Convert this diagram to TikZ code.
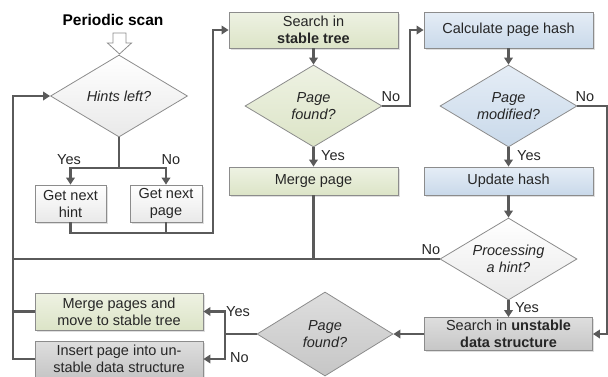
\documentclass[tikz,border=0pt]{standalone}
\usepackage{fontspec}
\setmainfont{Liberation Sans}
\usetikzlibrary{shapes.geometric,arrows.meta,shadows,calc}
\definecolor{linec}{HTML}{5A5A5A}
\definecolor{bordc}{HTML}{8C8C8C}
\definecolor{txtc}{HTML}{262626}
\definecolor{gA}{HTML}{EEF2E3}
\definecolor{gB}{HTML}{DCE4C7}
\definecolor{bA}{HTML}{E5EDF6}
\definecolor{bB}{HTML}{C9D9EA}
\definecolor{kA}{HTML}{DEDEDE}
\definecolor{kB}{HTML}{C6C6C6}
\definecolor{wA}{HTML}{FFFFFF}
\definecolor{wB}{HTML}{E9E9E9}
\begin{document}
\begin{tikzpicture}[x=1pt,y=-1pt,
  every node/.style={font=\fontsize{14.5}{17}\selectfont, text=txtc},
  box/.style={draw=bordc, line width=0.8pt, align=center, inner sep=0pt,
    drop shadow={opacity=0.25, shadow xshift=1.5pt, shadow yshift=-1.5pt}},
  greenbox/.style={box, top color=gA, bottom color=gB},
  bluebox/.style={box, top color=bA, bottom color=bB},
  graybox/.style={box, top color=kA, bottom color=kB},
  whitebox/.style={box, top color=wA, bottom color=wB},
  dia/.style={diamond, draw=bordc, line width=0.8pt, align=center, inner sep=0pt,
    aspect=1.67, minimum width=137pt, minimum height=82pt, font=\fontsize{14.5}{17}\selectfont\itshape},
  conn/.style={draw=linec, line width=2.2pt},
  arr/.style={conn, -{Triangle[length=7pt,width=8.5pt]}},
  lbl/.style={inner sep=0pt}
]
\useasboundingbox (0,0) rectangle (608,376);

% title and start arrow
\node[font=\fontsize{15.5}{18}\selectfont\bfseries, text=black] (title) at (113,20) {Periodic scan};
\draw[draw=bordc, fill=white, line width=0.8pt]
  (113,33) -- (126,33) -- (126,43) -- (131.5,43) -- (119.5,54) -- (107.5,43) -- (113,43) -- cycle;

% nodes
\node[dia, top color=wA, bottom color=wB] (hints) at (119,96) {Hints left?};
\node[whitebox, minimum width=71pt, minimum height=37pt] (hint) at (70.5,203.5) {Get next\\hint};
\node[whitebox, minimum width=72pt, minimum height=37pt] (page) at (166,203.5) {Get next\\page};

\node[greenbox, minimum width=169pt, minimum height=36pt] (stable) at (313.5,30) {Search in\\\textbf{stable tree}};
\node[dia, top color=gA, bottom color=gB] (found) at (313.5,106) {Page\\found?};
\node[greenbox, minimum width=169pt, minimum height=28pt] (mpage) at (313.5,181) {Merge page};

\node[bluebox, minimum width=169pt, minimum height=36pt] (calc) at (508.5,30) {Calculate page hash};
\node[dia, top color=bA, bottom color=bB] (modif) at (508.5,106) {Page\\modified?};
\node[bluebox, minimum width=169pt, minimum height=28pt] (update) at (508.5,181) {Update hash};

\node[dia, top color=wA, bottom color=wB] (proc) at (508.5,259) {Processing\\a hint?};
\node[graybox, minimum width=168pt, minimum height=33pt] (unstable) at (508.5,334) {Search in \textbf{unstable}\\\textbf{data structure}};

\node[dia, top color=kA, bottom color=kB, minimum width=136pt, minimum height=84pt] (gfound) at (325,334) {Page\\found?};
\node[greenbox, minimum width=168pt, minimum height=37pt] (merge2) at (119,311.5) {Merge pages and\\move to stable tree};
\node[graybox, minimum width=168pt, minimum height=36pt] (insert) at (119,359) {Insert page into un-\\stable data structure};

% helper coordinates
\coordinate (hb) at (119,168);
\coordinate (bb) at (213,233);
\coordinate (nf) at (410,106);
\coordinate (nm) at (607.5,106);
\coordinate (lb) at (13,359);
\coordinate (gb) at (225,334);

% connectors
\draw[conn] (hints.south) -- (hb);
\draw[arr] (hb) -| (hint.north);
\draw[arr] (hb) -| (page.north);
\draw[arr] (hint.south) |- (bb) |- (stable.west);
\draw[conn] (page.south) -- (page.south |- bb);

\draw[arr] (stable.south) -- (stable.south |- found.north);
\draw[arr] (found.east) -- (nf) |- (calc.west);
\draw[arr] (found.south) -- (found.south |- mpage.north);
\draw[conn] (mpage.south) -- (mpage.south |- proc.west);

\draw[arr] (calc.south) -- (calc.south |- modif.north);
\draw[arr] (modif.south) -- (modif.south |- update.north);
\draw[arr] (modif.east) -- (nm) |- (unstable.east);
\draw[arr] (update.south) -- (update.south |- proc.north);
\draw[arr] (proc.south) -- (proc.south |- unstable.north);
\draw[conn] (proc.west) -- (proc.west -| lb);

\draw[arr] (unstable.west) -- (unstable.west -| gfound.east);
\draw[conn] (gfound.west) -- (gb);
\draw[arr] (gb) |- (merge2.east);
\draw[arr] (gb) |- (insert.east);

\draw[arr] (insert.west) -- (lb) |- (hints.west);
\draw[conn] (merge2.west) -- (merge2.west -| lb);

% labels
\node[lbl] (l1) at (69,160) {Yes};
\node[lbl] (l2) at (171,160) {No};
\node[lbl] (l3) at (391,97) {No};
\node[lbl, anchor=west] (l4) at (321,156) {Yes};
\node[lbl] (l5) at (585,97) {No};
\node[lbl, anchor=west] (l6) at (517,156) {Yes};
\node[lbl] (l7) at (431,250) {No};
\node[lbl, anchor=west] (l8) at (515,308) {Yes};
\node[lbl, anchor=west] (l9) at (226,312) {Yes};
\node[lbl, anchor=west] (l10) at (230,358) {No};
\end{tikzpicture}
\end{document}
